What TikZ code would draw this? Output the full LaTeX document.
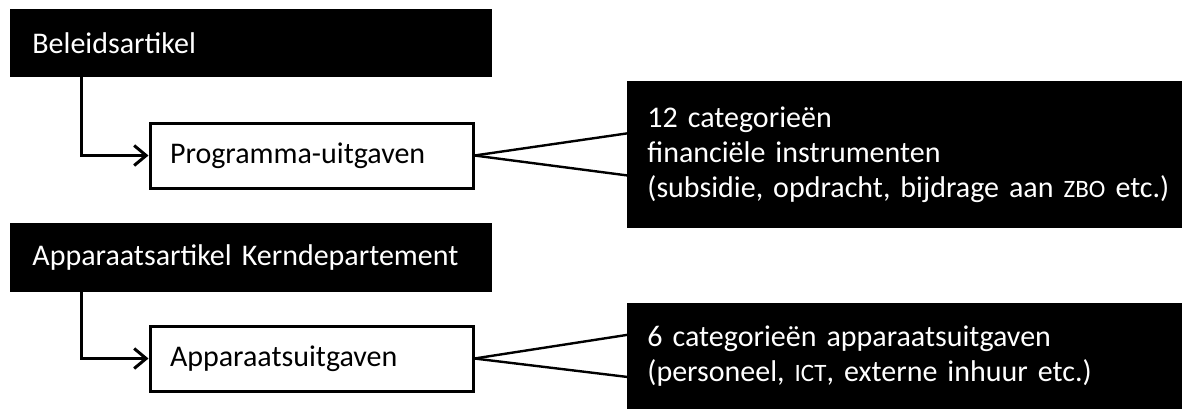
\documentclass[tikz,border=0pt]{standalone}
\usepackage{fontspec}
\setmainfont[WordSpace=0.7]{Carlito}
\usetikzlibrary{arrows.meta}
\newcommand{\klein}[1]{{\fontsize{12.5pt}{12.5pt}\selectfont #1}}
\tikzstyle{kop}=[draw=black, fill=black, text=white, shape=rectangle, anchor=north west, align=left, inner xsep=11pt, inner ysep=0pt, minimum height=33.5pt, text width=218.5pt]
\tikzstyle{uit}=[draw=black, fill=white, line width=1.5pt, shape=rectangle, anchor=north west, align=left, inner xsep=10pt, inner ysep=0pt, minimum height=32.5pt, text width=141.5pt]
\tikzstyle{cat}=[draw=black, fill=black, text=white, shape=rectangle, anchor=north west, align=left, inner xsep=10pt, inner ysep=0pt, text width=262pt]
\tikzstyle{karrow}=[line width=1.5pt, -{Straight Barb[length=6pt,width=10pt]}, color=black]
\tikzstyle{fline}=[line width=1.2pt, color=black]
\def\kopnode{\node[style=kop]}
\def\uitnode{\node[style=uit]}
\def\catnode{\node[style=cat]}
\def\karrow{\draw[style=karrow]}
\def\fline{\draw[style=fline]}

\begin{document}
\begin{tikzpicture}[x=0.5pt, y=-0.5pt, font=\fontsize{15pt}{17.5pt}\selectfont]
      \useasboundingbox (0,0) rectangle (1182,408);
      % programma
      \kopnode (Bnode) at (10,9)        {Beleidsartikel};
      \uitnode (Pnode) at (148.5,121.5) {Programma-uitgaven};
      \catnode (Fnode) [minimum height=73pt] at (627,81)
               {12 categorieën\\financiële instrumenten\\(subsidie, opdracht, bijdrage aan \klein{ZBO} etc.)};

      \karrow ([xshift=35.5pt]Bnode.south west) |- (Pnode.west);
      \fline  (Pnode.east) -- ([yshift=10.5pt]Fnode.west);
      \fline  (Pnode.east) -- ([yshift=-10.5pt]Fnode.west);
      % apparaat
      \kopnode (Anode) [minimum height=34pt] at (10,223) {Apparaatsartikel Kerndepartement};
      \uitnode (Unode) at (148.5,324.5) {Apparaatsuitgaven};
      \catnode (Cnode) [minimum height=52.5pt] at (627,303)
               {6 categorieën apparaatsuitgaven\\(personeel, \klein{ICT}, externe inhuur etc.)};

      \karrow ([xshift=35.5pt]Anode.south west) |- (Unode.west);
      \fline  (Unode.east) -- ([yshift=10.5pt]Cnode.west);
      \fline  (Unode.east) -- ([yshift=-10.5pt]Cnode.west);

\end{tikzpicture}
\end{document}
